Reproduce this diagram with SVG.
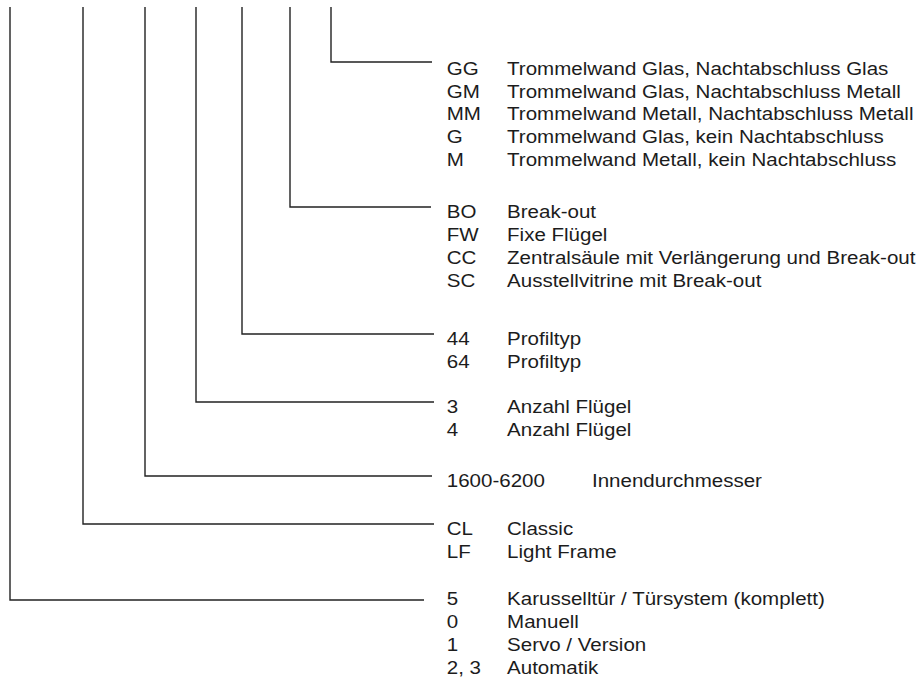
<svg xmlns="http://www.w3.org/2000/svg" width="924" height="684" viewBox="0 0 924 684">
<style>
.c{fill:none;stroke:#222;stroke-width:1.4}
text{font-family:"Liberation Sans",Arial,sans-serif;font-size:18.5px;fill:#1c1c1c}
</style>
<rect width="924" height="684" fill="#fff"/>
<g id="connectors">
<polyline class="c" points="331,7 331,62 432,62"/>
<polyline class="c" points="290,7 290,207 431,207"/>
<polyline class="c" points="242,7 242,334 434,334"/>
<polyline class="c" points="196,7 196,402 434,402"/>
<polyline class="c" points="145,7 145,476 432,476"/>
<polyline class="c" points="83,7 83,524 434,524"/>
<polyline class="c" points="10,7 10,600 424,600"/>
</g>
<g transform="scale(1.11 1)">
<g id="node-glass">
<text x="402.5" y="75">GG</text><text x="456.8" y="75">Trommelwand Glas, Nachtabschluss Glas</text>
<text x="402.5" y="97.7">GM</text><text x="456.8" y="97.7">Trommelwand Glas, Nachtabschluss Metall</text>
<text x="402.5" y="120.4">MM</text><text x="456.8" y="120.4">Trommelwand Metall, Nachtabschluss Metall</text>
<text x="402.5" y="143.1">G</text><text x="456.8" y="143.1">Trommelwand Glas, kein Nachtabschluss</text>
<text x="402.5" y="165.8">M</text><text x="456.8" y="165.8">Trommelwand Metall, kein Nachtabschluss</text>
</g>
<g id="node-breakout">
<text x="402.5" y="218.5">BO</text><text x="456.8" y="218.5">Break-out</text>
<text x="402.5" y="241.2">FW</text><text x="456.8" y="241.2">Fixe Flügel</text>
<text x="402.5" y="263.9">CC</text><text x="456.8" y="263.9">Zentralsäule mit Verlängerung und Break-out</text>
<text x="402.5" y="286.6">SC</text><text x="456.8" y="286.6">Ausstellvitrine mit Break-out</text>
</g>
<g id="node-profil">
<text x="402.5" y="345.5">44</text><text x="456.8" y="345.5">Profiltyp</text>
<text x="402.5" y="368.2">64</text><text x="456.8" y="368.2">Profiltyp</text>
</g>
<g id="node-fluegel">
<text x="402.5" y="413.5">3</text><text x="456.8" y="413.5">Anzahl Flügel</text>
<text x="402.5" y="436.2">4</text><text x="456.8" y="436.2">Anzahl Flügel</text>
</g>
<g id="node-durchmesser">
<text x="402.5" y="487.5">1600-6200</text><text x="533.3" y="487.5">Innendurchmesser</text>
</g>
<g id="node-typ">
<text x="402.5" y="535.5">CL</text><text x="456.8" y="535.5">Classic</text>
<text x="402.5" y="558.2">LF</text><text x="456.8" y="558.2">Light Frame</text>
</g>
<g id="node-system">
<text x="402.5" y="605.5">5</text><text x="456.8" y="605.5">Karusselltür / Türsystem (komplett)</text>
<text x="402.5" y="628.2">0</text><text x="456.8" y="628.2">Manuell</text>
<text x="402.5" y="650.9">1</text><text x="456.8" y="650.9">Servo / Version</text>
<text x="402.5" y="673.6">2, 3</text><text x="456.8" y="673.6">Automatik</text>
</g>
</g>
</svg>
